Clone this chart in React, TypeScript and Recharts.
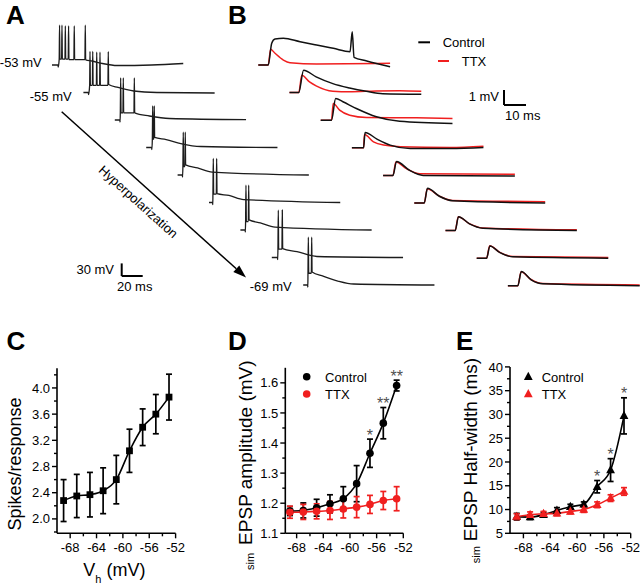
import React from 'react'
import {
  LineChart,
  ComposedChart,
  Line,
  Scatter,
  XAxis,
  YAxis,
  ErrorBar,
  ReferenceLine,
} from 'recharts'

const FONT = '"Liberation Sans", Arial, sans-serif'
const RED = '#f01f1f'

// ---------- C, D, E: holding potential sweeps ----------
const vh = [-69, -67, -65, -63, -61, -59, -57, -55, -53]

const spikesMean = [2.28, 2.35, 2.37, 2.43, 2.6, 3.04, 3.4, 3.6, 3.86]
const spikesErr = [0.32, 0.33, 0.34, 0.35, 0.37, 0.33, 0.28, 0.3, 0.35]

const ampControl = [1.174, 1.176, 1.185, 1.198, 1.215, 1.265, 1.366, 1.466, 1.591]
const ampControlErr = [0.015, 0.025, 0.028, 0.03, 0.04, 0.06, 0.047, 0.052, 0.018]
const ampTtx = [1.17, 1.171, 1.173, 1.176, 1.181, 1.187, 1.196, 1.209, 1.215]
const ampTtxErr = [0.02, 0.025, 0.025, 0.03, 0.03, 0.035, 0.03, 0.03, 0.04]
const ampSig = ['', '', '', '', '', '', '*', '**', '**']

const widthControl = [8.5, 8.4, 8.9, 9.8, 10.6, 11.1, 14.8, 18.3, 29.7]
const widthControlErr = [0.7, 0.5, 0.5, 0.6, 0.5, 0.5, 1.3, 2.4, 3.8]
const widthTtx = [8.5, 8.9, 9.1, 9.2, 9.6, 10.0, 11.0, 12.4, 13.8]
const widthTtxErr = [0.6, 0.6, 0.5, 0.5, 0.5, 0.6, 0.6, 0.7, 0.8]
const widthSig = ['', '', '', '', '', '', '*', '*', '*']

const xTicks = [-68, -66, -64, -62, -60, -58, -56, -54, -52]
const xMajors = [-68, -64, -60, -56, -52]
const cTicks = [1.8, 2.0, 2.2, 2.4, 2.6, 2.8, 3.0, 3.2, 3.4, 3.6, 3.8, 4.0, 4.2]
const cMajors = [2.0, 2.4, 2.8, 3.2, 3.6, 4.0]
const dTicks = [1.1, 1.15, 1.2, 1.25, 1.3, 1.35, 1.4, 1.45, 1.5, 1.55, 1.6]
const dMajors = [1.1, 1.2, 1.3, 1.4, 1.5, 1.6]
const eTicks = [5, 7.5, 10, 12.5, 15, 17.5, 20, 22.5, 25, 27.5, 30, 32.5, 35, 37.5, 40]
const eMajors = [5, 10, 15, 20, 25, 30, 35, 40]

// ---------- A: current-clamp traces (ms, mV from baseline) ----------
const aOnsets = [5.7, 4.7, 4.8, 5.2, 4.5, 3.4, 4.5, 5.4, 4.2]
// [spike time, peak, level after the spike]
const aSpikes = [
  [[7.2, 95, 14], [9.5, 95, 14], [12.7, 93, 14], [15.8, 93, 13], [21.2, 93, 13], [31.7, 95, 12]],
  [[6.3, 98, 17], [8.9, 98, 17], [12.7, 96, 17], [15.8, 96, 17], [23.7, 97, 19]],
  [[5.6, 100, 17], [8.1, 100, 17], [18.6, 100, 17]],
  [[6.2, 99, 20], [7.7, 99, 24]],
  [[5.4, 102, 20], [7.3, 102, 24]],
  [[4.1, 105, 20], [7.3, 105, 21]],
  [[5.3, 107, 20], [7.9, 107, 24]],
  [[6.2, 113, 20], [10, 113, 21]],
  [[4.9, 114, 28], [8.1, 114, 31]],
]
const aTails = [
  [[38, 9.5], [48, 3.6], [62, -1.2], [95, 0], [125, 3.6]],
  [[33, 12], [48, 3.6], [70, 0], [125, -1.2]],
  [[33, 9.5], [52, 3.6], [125, 1]],
  [[19, 19], [33, 9.5], [52, 2.4], [125, 0]],
  [[19, 16.7], [33, 7], [125, 0]],
  [[19, 16.7], [33, 7], [125, 0]],
  [[19, 17], [33, 7], [125, 0]],
  [[24, 14], [43, 2.4], [125, 0]],
  [[19, 21], [33, 9.5], [48, 2.4], [125, 0]],
]
const holdingLabels = ['-53 mV', '-55 mV', '-69 mV']

// ---------- B: EPSPs, control vs TTX (ms, mV from baseline) ----------
const bControl = [
  [[0, 0], [4.5, 0], [6.1, 1.45], [7.6, 1.73], [11.4, 1.78], [19, 1.55], [26.5, 1.33], [34.1, 1.11], [41.7, 0.89], [42.7, 2.22], [43.5, 0.51], [49.3, 0.27], [59.9, -0.11]],
  [[0, 0], [4.2, 0], [6.4, 1.49], [12.1, 1.05], [19.7, 0.6], [27.3, 0.31], [34.9, 0.09], [42.4, -0.07], [59.9, -0.11]],
  [[0, 0], [4.9, 0], [6.8, 1.45], [10.1, 1.23], [16.2, 0.78], [25.3, 0.23], [35.9, -0.07], [59.9, -0.22]],
  [[0, 0], [5.3, 0], [6, 1.02], [11.4, 0.58], [17.4, 0.18], [26.5, -0.05], [44.7, -0.05], [59.8, 0.02]],
  [[0, 0], [4.5, 0], [6.1, 0.93], [12.1, 0.33], [18.2, 0], [59.9, -0.04]],
  [[0, 0], [4.5, 0], [6, 0.98], [11.4, 0.45], [17.4, 0.15], [59.5, 0]],
  [[0, 0], [4.4, 0], [5.9, 0.93], [10.9, 0.45], [17, 0.16], [59.7, 0]],
  [[0, 0], [4.5, 0], [6, 0.82], [10.6, 0.37], [16.6, 0.09], [59.8, 0]],
  [[0, 0], [4.5, 0], [6.1, 0.95], [10.6, 0.4], [15.9, 0.13], [59.9, 0]],
]
const bTtx = [
  [[0, 0], [4.5, 0], [5.6, 1.05], [7.6, 0.78], [11.4, 0.33], [14.4, 0.15], [26.5, 0.07], [59.9, 0.11]],
  [[0, 0], [4.2, 0], [5.6, 1.15], [9.1, 0.71], [12.1, 0.45], [19.7, 0.09], [27.3, 0.05], [39.4, 0.11], [50, 0.13], [59.9, 0.09]],
  [[0, 0], [4.9, 0], [5.7, 1.11], [8.6, 0.67], [13.2, 0.33], [20.8, 0.18], [43.5, 0.16], [59.9, 0.11]],
  [[0, 0], [5.3, 0], [5.7, 0.89], [9.8, 0.4], [14.4, 0.18], [22, 0.07], [44.7, 0.02], [59.8, 0.11]],
  [[0, 0], [4.5, 0], [5.8, 0.89], [10.6, 0.45], [16.7, 0.11], [59.9, 0.07]],
  [[0, 0], [4.5, 0], [5.9, 0.95], [11.2, 0.47], [17.2, 0.17], [59.5, 0.09]],
  [[0, 0], [4.4, 0], [5.8, 0.92], [10.8, 0.47], [16.8, 0.18], [59.7, 0.05]],
  [[0, 0], [4.5, 0], [5.9, 0.83], [10.5, 0.39], [16.4, 0.11], [59.8, 0.05]],
  [[0, 0], [4.5, 0], [6, 0.94], [10.5, 0.42], [15.8, 0.15], [59.9, 0.06]],
]

// layout of the stacked sweeps (pixels per unit, first sweep origin, stagger)
const A = { pxMs: 1.05, pxMv: 0.42, x0: 52, dx: 31.4, y0: 65, dy: 27.5 }
const B = { pxMs: 2.2, pxMv: 15, x0: 258.3, dx: 31.2, y0: 65, dy: 27.6 }

function placeTrace(pts: number[][], i: number, s: typeof A) {
  const t0 = (s.x0 + s.dx * i) / s.pxMs
  const v0 = -(s.y0 + s.dy * i) / s.pxMv
  return pts.map(([t, v]) => ({ t: t + t0, v: v + v0 }))
}

const aTraces = aOnsets.map((on, i) => {
  const pts: number[][] = [[0, 0], [on, 0], [on + 0.2, -5]]
  let level = aSpikes[i][0][2]
  aSpikes[i].forEach(([t, peak, after]) => {
    const last = pts[pts.length - 1][0]
    pts.push([Math.max(t - 0.35, last + 0.1), level])
    pts.push([t, peak])
    pts.push([t + 0.35, after])
    level = after
  })
  aTails[i].forEach((p) => pts.push(p))
  return placeTrace(pts, i, A)
})
const bControlTraces = bControl.map((p, i) => placeTrace(p, i, B))
const bTtxTraces = bTtx.map((p, i) => placeTrace(p, i, B))

const near = (a: number, b: number) => Math.abs(a - b) < 1e-6

function yTick(majors: number[], fmt: (v: number) => string) {
  return (p: any) => {
    const major = majors.some((m) => near(m, p.payload.value))
    const len = major ? 5 : 3
    return (
      <g>
        <line x1={p.x} x2={p.x - len} y1={p.y} y2={p.y} stroke="#000" strokeWidth={1.4} />
        {major && (
          <text x={p.x - 7} y={p.y + 4.6} textAnchor="end" fontSize={13} fontFamily={FONT} fill="#000">
            {fmt(p.payload.value)}
          </text>
        )}
      </g>
    )
  }
}

function xTick(p: any) {
  const major = xMajors.some((m) => near(m, p.payload.value))
  const len = major ? 5 : 3
  return (
    <g>
      <line x1={p.x} x2={p.x} y1={p.y} y2={p.y + len} stroke="#000" strokeWidth={1.4} />
      {major && (
        <text x={p.x} y={p.y + 18.4} textAnchor="middle" fontSize={13} fontFamily={FONT} fill="#000">
          {String(p.payload.value)}
        </text>
      )}
    </g>
  )
}

type Marker = 'square' | 'circle' | 'triangle'

function markerShape(kind: Marker, color: string) {
  return (p: any) => {
    const { cx, cy, index } = p
    if (kind === 'square')
      return <rect key={index} x={cx - 3.4} y={cy - 3.4} width={6.8} height={6.8} fill={color} />
    if (kind === 'circle') return <circle key={index} cx={cx} cy={cy} r={3.8} fill={color} />
    return (
      <polygon
        key={index}
        points={`${cx},${cy - 5} ${cx - 4.4},${cy + 3.2} ${cx + 4.4},${cy + 3.2}`}
        fill={color}
      />
    )
  }
}

interface SeriesDef {
  mean: number[]
  err: number[]
  color: string
  marker: Marker
}

interface PanelProps {
  box: { left: number; right: number; top: number; bottom: number }
  xDomain: [number, number]
  yDomain: [number, number]
  yTicks: number[]
  yMajors: number[]
  yFmt: (v: number) => string
  series: SeriesDef[]
  sig?: string[]
}

function ErrorPanel({ box, xDomain, yDomain, yTicks, yMajors, yFmt, series, sig }: PanelProps) {
  const sigData = sig
    ? vh
        .map((x, i) => ({ x, y: series[0].mean[i] + series[0].err[i], s: sig[i] }))
        .filter((d) => d.s)
    : []
  return (
    <div style={{ position: 'absolute', left: 0, top: 0 }}>
      <ComposedChart
        width={640}
        height={585}
        margin={{ top: box.top, right: 640 - box.right, bottom: 0, left: 0 }}
      >
        <XAxis
          type="number"
          dataKey="x"
          domain={xDomain}
          allowDataOverflow
          ticks={xTicks}
          interval={0}
          height={585 - box.bottom}
          tickSize={0}
          tickMargin={0}
          tickLine={false}
          axisLine={{ stroke: '#000', strokeWidth: 1.6 }}
          tick={xTick}
        />
        <YAxis
          type="number"
          domain={yDomain}
          allowDataOverflow
          ticks={yTicks}
          interval={0}
          width={box.left}
          tickSize={0}
          tickMargin={0}
          tickLine={false}
          axisLine={{ stroke: '#000', strokeWidth: 1.6 }}
          tick={yTick(yMajors, yFmt)}
        />
        {series.map((s, k) => (
          <Line
            key={k}
            data={vh.map((x, i) => ({ x, y: s.mean[i], e: s.err[i] }))}
            dataKey="y"
            type="monotone"
            stroke={s.color}
            strokeWidth={1.6}
            dot={markerShape(s.marker, s.color)}
            activeDot={false}
            isAnimationActive={false}
          >
            <ErrorBar dataKey="e" direction="y" width={3} stroke={s.color} strokeWidth={1.7} />
          </Line>
        ))}
        {sigData.length > 0 && (
          <Scatter
            data={sigData}
            dataKey="y"
            isAnimationActive={false}
            shape={(p: any) => (
              <text
                x={p.cx}
                y={p.cy + 1.5}
                textAnchor="middle"
                fontSize={16}
                fontFamily={FONT}
                fill="#505050"
              >
                {p.payload.s}
              </text>
            )}
          />
        )}
      </ComposedChart>
    </div>
  )
}

function TraceChart({ s, children }: { s: typeof A; children: React.ReactNode }) {
  return (
    <div style={{ position: 'absolute', left: 0, top: 0 }}>
      <LineChart width={640} height={340} margin={{ top: 0, right: 0, bottom: 0, left: 0 }}>
        <XAxis type="number" dataKey="t" domain={[0, 640 / s.pxMs]} allowDataOverflow hide />
        <YAxis type="number" domain={[-340 / s.pxMv, 0]} allowDataOverflow hide />
        {children}
      </LineChart>
    </div>
  )
}

function scaleBar(s: typeof A, px: number, py: number, ms: number, mv: number, id: string) {
  const t0 = px / s.pxMs
  const v0 = -py / s.pxMv
  return [
    <ReferenceLine
      key={id + 'v'}
      segment={[{ x: t0, y: v0 }, { x: t0, y: v0 + mv }]}
      stroke="#000"
      strokeWidth={2}
      ifOverflow="visible"
    />,
    <ReferenceLine
      key={id + 'h'}
      segment={[{ x: t0, y: v0 }, { x: t0 + ms, y: v0 }]}
      stroke="#000"
      strokeWidth={2}
      ifOverflow="visible"
    />,
  ]
}

const txt = { fontFamily: FONT, fill: '#000' }

export default function App() {
  return (
    <div
      style={{
        position: 'absolute',
        left: 0,
        top: 0,
        width: 640,
        height: 585,
        background: '#fff',
        fontFamily: FONT,
      }}
    >
      <TraceChart s={A}>
        {aTraces.map((d, i) => (
          <Line
            key={i}
            data={d}
            dataKey="v"
            type="monotone"
            stroke="#1c1c1c"
            strokeWidth={1.3}
            dot={false}
            activeDot={false}
            isAnimationActive={false}
          />
        ))}
        {scaleBar(A, 121.7, 276, 20, 30, 'a')}
      </TraceChart>

      <TraceChart s={B}>
        {bTtxTraces.map((d, i) => (
          <Line
            key={'r' + i}
            data={d}
            dataKey="v"
            type="monotone"
            stroke={RED}
            strokeWidth={1.5}
            dot={false}
            activeDot={false}
            isAnimationActive={false}
          />
        ))}
        {bControlTraces.map((d, i) => (
          <Line
            key={'k' + i}
            data={d}
            dataKey="v"
            type="monotone"
            stroke="#111"
            strokeWidth={1.5}
            dot={false}
            activeDot={false}
            isAnimationActive={false}
          />
        ))}
        {scaleBar(B, 504, 105, 10, 1, 'b')}
      </TraceChart>

      <ErrorPanel
        box={{ left: 57, right: 175.6, top: 368.3, bottom: 533.3 }}
        xDomain={[-70, -52]}
        yDomain={[1.78, 4.3]}
        yTicks={cTicks}
        yMajors={cMajors}
        yFmt={(v) => v.toFixed(1)}
        series={[{ mean: spikesMean, err: spikesErr, color: '#000', marker: 'square' }]}
      />
      <ErrorPanel
        box={{ left: 285.3, right: 403.3, top: 367.8, bottom: 533.3 }}
        xDomain={[-69.7, -52]}
        yDomain={[1.1, 1.65]}
        yTicks={dTicks}
        yMajors={dMajors}
        yFmt={(v) => v.toFixed(1)}
        series={[
          { mean: ampControl, err: ampControlErr, color: '#000', marker: 'circle' },
          { mean: ampTtx, err: ampTtxErr, color: RED, marker: 'circle' },
        ]}
        sig={ampSig}
      />
      <ErrorPanel
        box={{ left: 510, right: 630.7, top: 366.9, bottom: 533.3 }}
        xDomain={[-70, -52]}
        yDomain={[5, 40]}
        yTicks={eTicks}
        yMajors={eMajors}
        yFmt={(v) => String(v)}
        series={[
          { mean: widthControl, err: widthControlErr, color: '#000', marker: 'triangle' },
          { mean: widthTtx, err: widthTtxErr, color: RED, marker: 'triangle' },
        ]}
        sig={widthSig}
      />

      <svg
        width={640}
        height={585}
        style={{ position: 'absolute', left: 0, top: 0, pointerEvents: 'none' }}
      >
        {/* panel letters */}
        {[
          ['A', 6, 23.5],
          ['B', 228, 23.5],
          ['C', 6.5, 350],
          ['D', 228, 350],
          ['E', 456, 350],
        ].map(([l, x, y]) => (
          <text key={l as string} x={x as number} y={y as number} fontSize={26} fontWeight="bold" {...txt}>
            {l}
          </text>
        ))}

        {/* A annotations */}
        <text x={41.7} y={67} textAnchor="end" fontSize={13} {...txt}>{holdingLabels[0]}</text>
        <text x={71.7} y={101.4} textAnchor="end" fontSize={13} {...txt}>{holdingLabels[1]}</text>
        <text x={291.7} y={291.4} textAnchor="end" fontSize={13} {...txt}>{holdingLabels[2]}</text>
        <line x1={61.7} y1={111.7} x2={236.3} y2={268.8} stroke="#000" strokeWidth={1.5} />
        <polygon points="246,277.5 233.3,272.1 239.3,265.5" fill="#000" />
        <text
          transform="translate(138.3,201.7) rotate(42)"
          y={4.5}
          textAnchor="middle"
          fontSize={13}
          {...txt}
        >
          Hyperpolarization
        </text>
        <text x={114} y={273.6} textAnchor="end" fontSize={13} {...txt}>30 mV</text>
        <text x={117} y={291.4} fontSize={13} {...txt}>20 ms</text>

        {/* B annotations */}
        <line x1={418.3} x2={430} y1={42.3} y2={42.3} stroke="#000" strokeWidth={2} />
        <text x={442.7} y={47} fontSize={13} {...txt}>Control</text>
        <line x1={438} x2={449} y1={61} y2={61} stroke={RED} strokeWidth={2} />
        <text x={461.7} y={65.5} fontSize={13} {...txt}>TTX</text>
        <text x={499} y={100.5} textAnchor="end" fontSize={13} {...txt}>1 mV</text>
        <text x={505} y={119.5} fontSize={13} {...txt}>10 ms</text>

        {/* C titles */}
        <text transform="translate(20.5,464) rotate(-90)" textAnchor="middle" fontSize={18} {...txt}>
          Spikes/response
        </text>
        <text x={83.3} y={576} fontSize={18} {...txt}>
          V<tspan fontSize={11} dy={7}>h</tspan>
          <tspan dy={-7}> (mV)</tspan>
        </text>

        {/* D titles + legend */}
        <text transform="translate(251.7,570) rotate(-90)" fontSize={19} {...txt}>
          <tspan fontSize={11} dy={2.5}>sim</tspan>
          <tspan dy={-2.5} dx={8}>EPSP amplitude (mV)</tspan>
        </text>
        <circle cx={306.7} cy={376.7} r={3.8} fill="#000" />
        <text x={325} y={381.5} fontSize={13} {...txt}>Control</text>
        <circle cx={306.7} cy={394} r={3.8} fill={RED} />
        <text x={325} y={398.8} fontSize={13} {...txt}>TTX</text>

        {/* E titles + legend */}
        <text transform="translate(476.7,563.3) rotate(-90)" fontSize={19} {...txt}>
          <tspan fontSize={11} dy={3}>sim</tspan>
          <tspan dy={-3} dx={5}>EPSP Half-width (ms)</tspan>
        </text>
        <polygon points="528.3,371.7 523.9,379.9 532.7,379.9" fill="#000" />
        <text x={541.7} y={381.5} fontSize={13} {...txt}>Control</text>
        <polygon points="528.3,389 523.9,397.2 532.7,397.2" fill={RED} />
        <text x={541.7} y={398.8} fontSize={13} {...txt}>TTX</text>
      </svg>
    </div>
  )
}
